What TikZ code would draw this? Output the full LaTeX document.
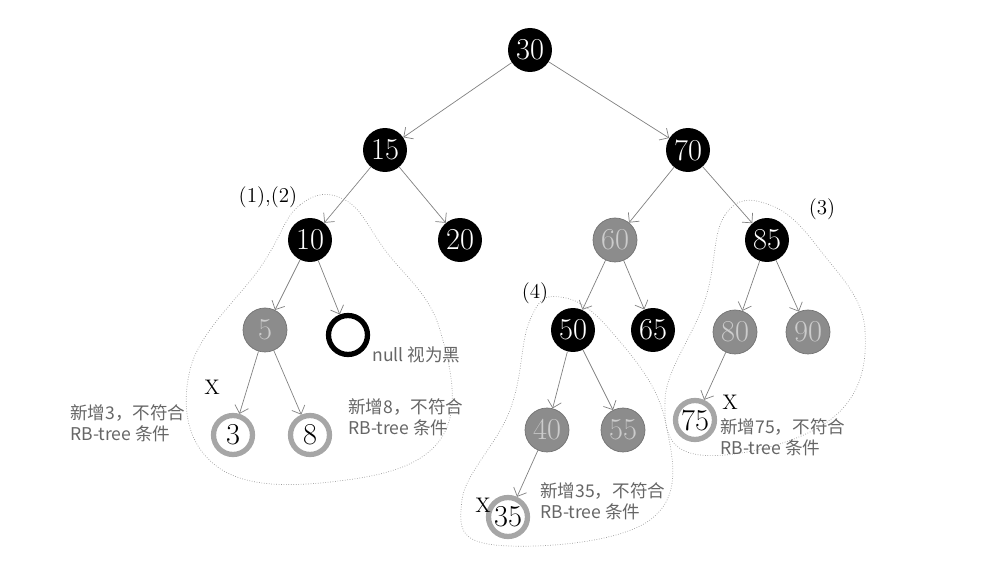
\documentclass[tikz,border=0pt]{standalone}
\usepackage{fontspec}
\newfontfamily\cjk{Noto Sans CJK SC}
\usetikzlibrary{arrows.meta, positioning}

\begin{document}
\begin{tikzpicture}[x=0.02cm, y=-0.02cm, ->, >={Straight Barb[length=4pt]}, draw=black!50]
    \tikzstyle{rbnode}=[circle, minimum size=0.88cm, inner sep=0pt, font=\LARGE]
    \tikzstyle{black node}=[rbnode, fill=black, text=white]
    \tikzstyle{red node}=[rbnode, fill=black!45, draw=black!55, text=black!20]
    \tikzstyle{new node}=[rbnode, fill=white, draw=black!35, line width=3pt, minimum size=0.78cm]
    \tikzstyle{null node}=[rbnode, fill=white, draw=black, line width=3pt, minimum size=0.78cm]
    \tikzstyle{note}=[align=left, anchor=north west, text=black!60, font=\cjk\normalsize, inner sep=0pt]
    \tikzstyle{region}=[-, draw=black!40, densely dotted, thin]
    \tikzstyle{tag}=[font=\large, inner sep=0pt]

    \useasboundingbox (0,0) rectangle (1005,567);

    % black nodes
    \foreach \name / \x / \y in {30/530/50, 15/385/150, 70/688/150, 10/310/240,
        20/460/240, 85/767/240, 50/573/330, 65/653/330}
        \node[black node] (n\name) at (\x,\y) {\name};

    % red nodes
    \foreach \name / \x / \y in {60/615/240, 5/265/330, 80/735/332, 90/808/332, 40/547/430, 55/623/430}
        \node[red node] (n\name) at (\x,\y) {\name};

    % newly inserted nodes
    \foreach \name / \x / \y in {3/233/435, 8/310/435, 75/695/420, 35/508/517}
        \node[new node] (n\name) at (\x,\y) {\name};

    \node[null node] (nnull) at (348,335) {};

    % edges
    \foreach \a / \b in {30/15, 30/70, 15/10, 15/20, 70/60, 70/85, 10/5, 10/null,
        60/50, 60/65, 85/80, 85/90, 50/40, 50/55, 5/3, 5/8, 80/75, 40/35}
        \draw (n\a) -- (n\b);

    % dotted regions
    \draw[region] plot[smooth cycle, tension=0.7] coordinates {(345,200) (300,205) (262,265)
        (190,370) (215,465) (330,482) (440,440) (440,330) (385,250)};
    \draw[region] plot[smooth cycle, tension=0.7] coordinates {(770,205) (725,215) (705,300)
        (665,400) (700,455) (830,420) (865,330) (820,250)};
    \draw[region] plot[smooth cycle, tension=0.7] coordinates {(560,297) (530,320) (510,410)
        (462,500) (495,545) (650,520) (665,420) (610,330)};

    % labels
    \node[tag] (l12) at (268,197) {(1),(2)};
    \node[tag] (l3) at (822,209) {(3)};
    \node[tag] (l4) at (535,293) {(4)};
    \node[tag] (x3) at (212,387) {X};
    \node[tag] (x75) at (730,402) {X};
    \node[tag] (x35) at (483,505) {X};

    \node[note, anchor=west] (tnull) at (372,355) {null 视为黑};
    \node[note] (t3) at (70,404) {新增3，不符合\\RB-tree 条件};
    \node[note] (t8) at (348,398) {新增8，不符合\\RB-tree 条件};
    \node[note] (t75) at (720,418) {新增75，不符合\\RB-tree 条件};
    \node[note] (t35) at (540,482) {新增35，不符合\\RB-tree 条件};
\end{tikzpicture}
\end{document}
